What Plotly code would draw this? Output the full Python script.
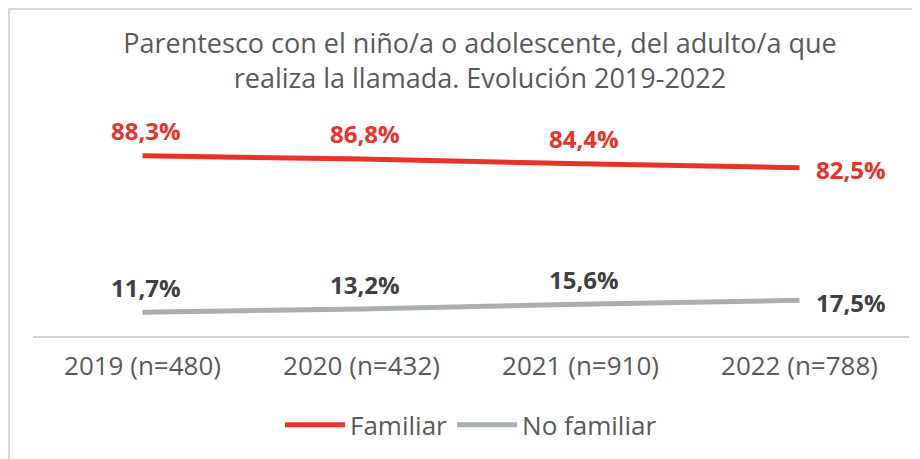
import plotly.graph_objects as go

categories = ['2019 (n=480)', '2020 (n=432)', '2021 (n=910)', '2022 (n=788)']
familiar = [88.3, 86.8, 84.4, 82.5]
no_familiar = [11.7, 13.2, 15.6, 17.5]

red = '#E8322A'
grey = '#A9AEB1'
font_family = 'Open Sans, sans-serif'

def pct(v):
    return ('%.1f%%' % v).replace('.', ',')

fig = go.Figure()
fig.add_trace(go.Scatter(x=categories, y=familiar, name='Familiar', mode='lines',
                         line=dict(color=red, width=5)))
fig.add_trace(go.Scatter(x=categories, y=no_familiar, name='No familiar', mode='lines',
                         line=dict(color=grey, width=5)))

# data labels
for vals, col in [(familiar, red), (no_familiar, '#404040')]:
    for i, (c, v) in enumerate(zip(categories, vals)):
        last = i == len(categories) - 1
        fig.add_annotation(x=c, y=v, text='<b>%s</b>' % pct(v), showarrow=False,
                           font=dict(size=24, color=col, family=font_family),
                           xanchor='left' if last else 'center',
                           xshift=14 if last else 3,
                           yshift=-2 if last else 25)

# outer frame
fig.add_shape(type='rect', xref='paper', yref='paper',
              x0=-0.0274, x1=1.05, y0=-0.7, y1=1.603,
              line=dict(color='#D9D9D9', width=2), layer='below')

fig.update_layout(
    width=912, height=451,
    margin=dict(l=25, r=11, t=124, b=123),
    paper_bgcolor='white', plot_bgcolor='white',
    font=dict(family=font_family, color='#595959'),
    title=dict(text='Parentesco con el niño/a o adolescente, del adulto/a que<br>realiza la llamada. Evolución 2019-2022',
               x=0.5175, xanchor='center', y=0.90, yanchor='middle',
               font=dict(size=27, color='#595959', family=font_family)),
    xaxis=dict(showgrid=False, showline=True, linecolor='#D0D0D0', linewidth=2,
               ticks='', tickfont=dict(size=26, color='#595959'), range=[-0.5, 3.5],
               ticklabelstandoff=6),
    yaxis=dict(range=[0, 100], visible=False),
    legend=dict(orientation='h', x=0.5, xanchor='center', y=-0.436, yanchor='middle',
                font=dict(size=26, color='#595959'), itemwidth=60),
)

fig.write_html("out.html")
